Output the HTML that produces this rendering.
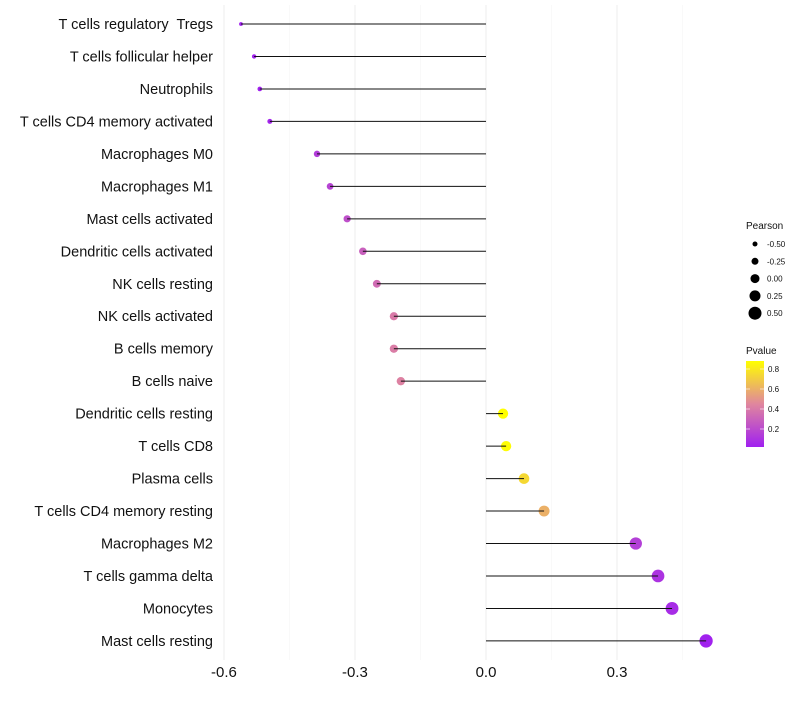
<!DOCTYPE html>
<html><head><meta charset="utf-8"><style>
body{margin:0;background:#fff;font-family:"Liberation Sans",sans-serif}
text{white-space:pre}
</style></head><body>
<svg id="c" width="800" height="700" xmlns="http://www.w3.org/2000/svg">
<defs><linearGradient id="pg" x1="0" y1="1" x2="0" y2="0">
<stop offset="0" stop-color="#a020f0"/><stop offset="0.5" stop-color="#e0869e"/><stop offset="1" stop-color="#ffff00"/>
</linearGradient></defs>
</svg>
<script>
const categories=["T cells regulatory  Tregs","T cells follicular helper","Neutrophils","T cells CD4 memory activated","Macrophages M0","Macrophages M1","Mast cells activated","Dendritic cells activated","NK cells resting","NK cells activated","B cells memory","B cells naive","Dendritic cells resting","T cells CD8","Plasma cells","T cells CD4 memory resting","Macrophages M2","T cells gamma delta","Monocytes","Mast cells resting"];
const pearson=[-0.561,-0.531,-0.518,-0.495,-0.387,-0.357,-0.318,-0.282,-0.250,-0.211,-0.211,-0.195,0.039,0.046,0.087,0.133,0.343,0.394,0.426,0.504];
const pvalue=[0.02,0.03,0.03,0.04,0.14,0.17,0.22,0.29,0.34,0.4,0.41,0.43,0.88,0.87,0.74,0.6,0.15,0.1,0.07,0.03];
const xTicks=[-0.6,-0.3,0.0,0.3];
const xTickLabels=["-0.6","-0.3","0.0","0.3"];
const sizeBreaks=[-0.5,-0.25,0,0.25,0.5];
const sizeLabels=["-0.50","-0.25","0.00","0.25","0.50"];
const colorBreaks=[0.2,0.4,0.6,0.8];

const svg=document.getElementById('c');const NS="http://www.w3.org/2000/svg";
function mk(t,a,p){const e=document.createElementNS(NS,t);for(const k in a)e.setAttribute(k,a[k]);(p||svg).appendChild(e);return e;}
const x=v=>486+v*436.7;
const y=i=>24+i*32.47;
const r=p=>Math.sqrt(Math.max(2,25+38*p));
const pmin=0.02,pmax=0.88;
function lerp(a,b,t){return a.map((v,i)=>Math.round(v+(b[i]-v)*t));}
function col(p){let t=(p-pmin)/(pmax-pmin);t=Math.max(0,Math.min(1,t));const A=[160,32,240],M=[224,134,158],B=[255,255,0];
const c=t<0.5?lerp(A,M,t/0.5):lerp(M,B,(t-0.5)/0.5);return `rgb(${c})`;}
[-0.45,-0.15,0.15,0.45].forEach(v=>{const g=mk('line',{x1:x(v),x2:x(v),y1:5,y2:660,stroke:'#f5f5f5','stroke-width':0.6});

});
xTicks.forEach((v,i)=>{const g=mk('line',{x1:x(v),x2:x(v),y1:5,y2:660,stroke:'#eeeeee','stroke-width':1});


const t=mk('text',{x:x(v),y:677,'text-anchor':'middle','font-size':15,fill:'#111'});t.textContent=xTickLabels[i];

});
categories.forEach((c,i)=>{
const t=mk('text',{x:213,y:y(i)+5,'text-anchor':'end','font-size':14.5,fill:'#111'});t.textContent=c;


const d=mk('circle',{cx:x(pearson[i]),cy:y(i),r:r(pearson[i]),fill:col(pvalue[i])});


const l=mk('line',{x1:x(0),x2:x(pearson[i]),y1:y(i),y2:y(i),stroke:'#111','stroke-width':1});


});
let t=mk('text',{x:746,y:229,'font-size':10,fill:'#111'});t.textContent='Pearson';


sizeBreaks.forEach((s,i)=>{const cy=244+i*17.3;
const c=mk('circle',{cx:755,cy:cy,r:[2.5,3.5,4.5,5.5,6.5][i],fill:'#000'});


const tt=mk('text',{x:767,y:cy+3,'font-size':8,fill:'#111'});tt.textContent=sizeLabels[i];

});
t=mk('text',{x:746,y:354,'font-size':10,fill:'#111'});t.textContent='Pvalue';


const bar=mk('rect',{x:746,y:361,width:18,height:86,fill:'url(#pg)'});


colorBreaks.forEach(b=>{const cy=361+86*(1-(b-pmin)/(pmax-pmin));
const tt=mk('text',{x:768,y:cy+3,'font-size':8,fill:'#111'});tt.textContent=b.toFixed(1);


mk('line',{x1:746,x2:750,y1:cy,y2:cy,stroke:'#fff','stroke-width':0.6});mk('line',{x1:760,x2:764,y1:cy,y2:cy,stroke:'#fff','stroke-width':0.6});});
</script>
</body></html>
